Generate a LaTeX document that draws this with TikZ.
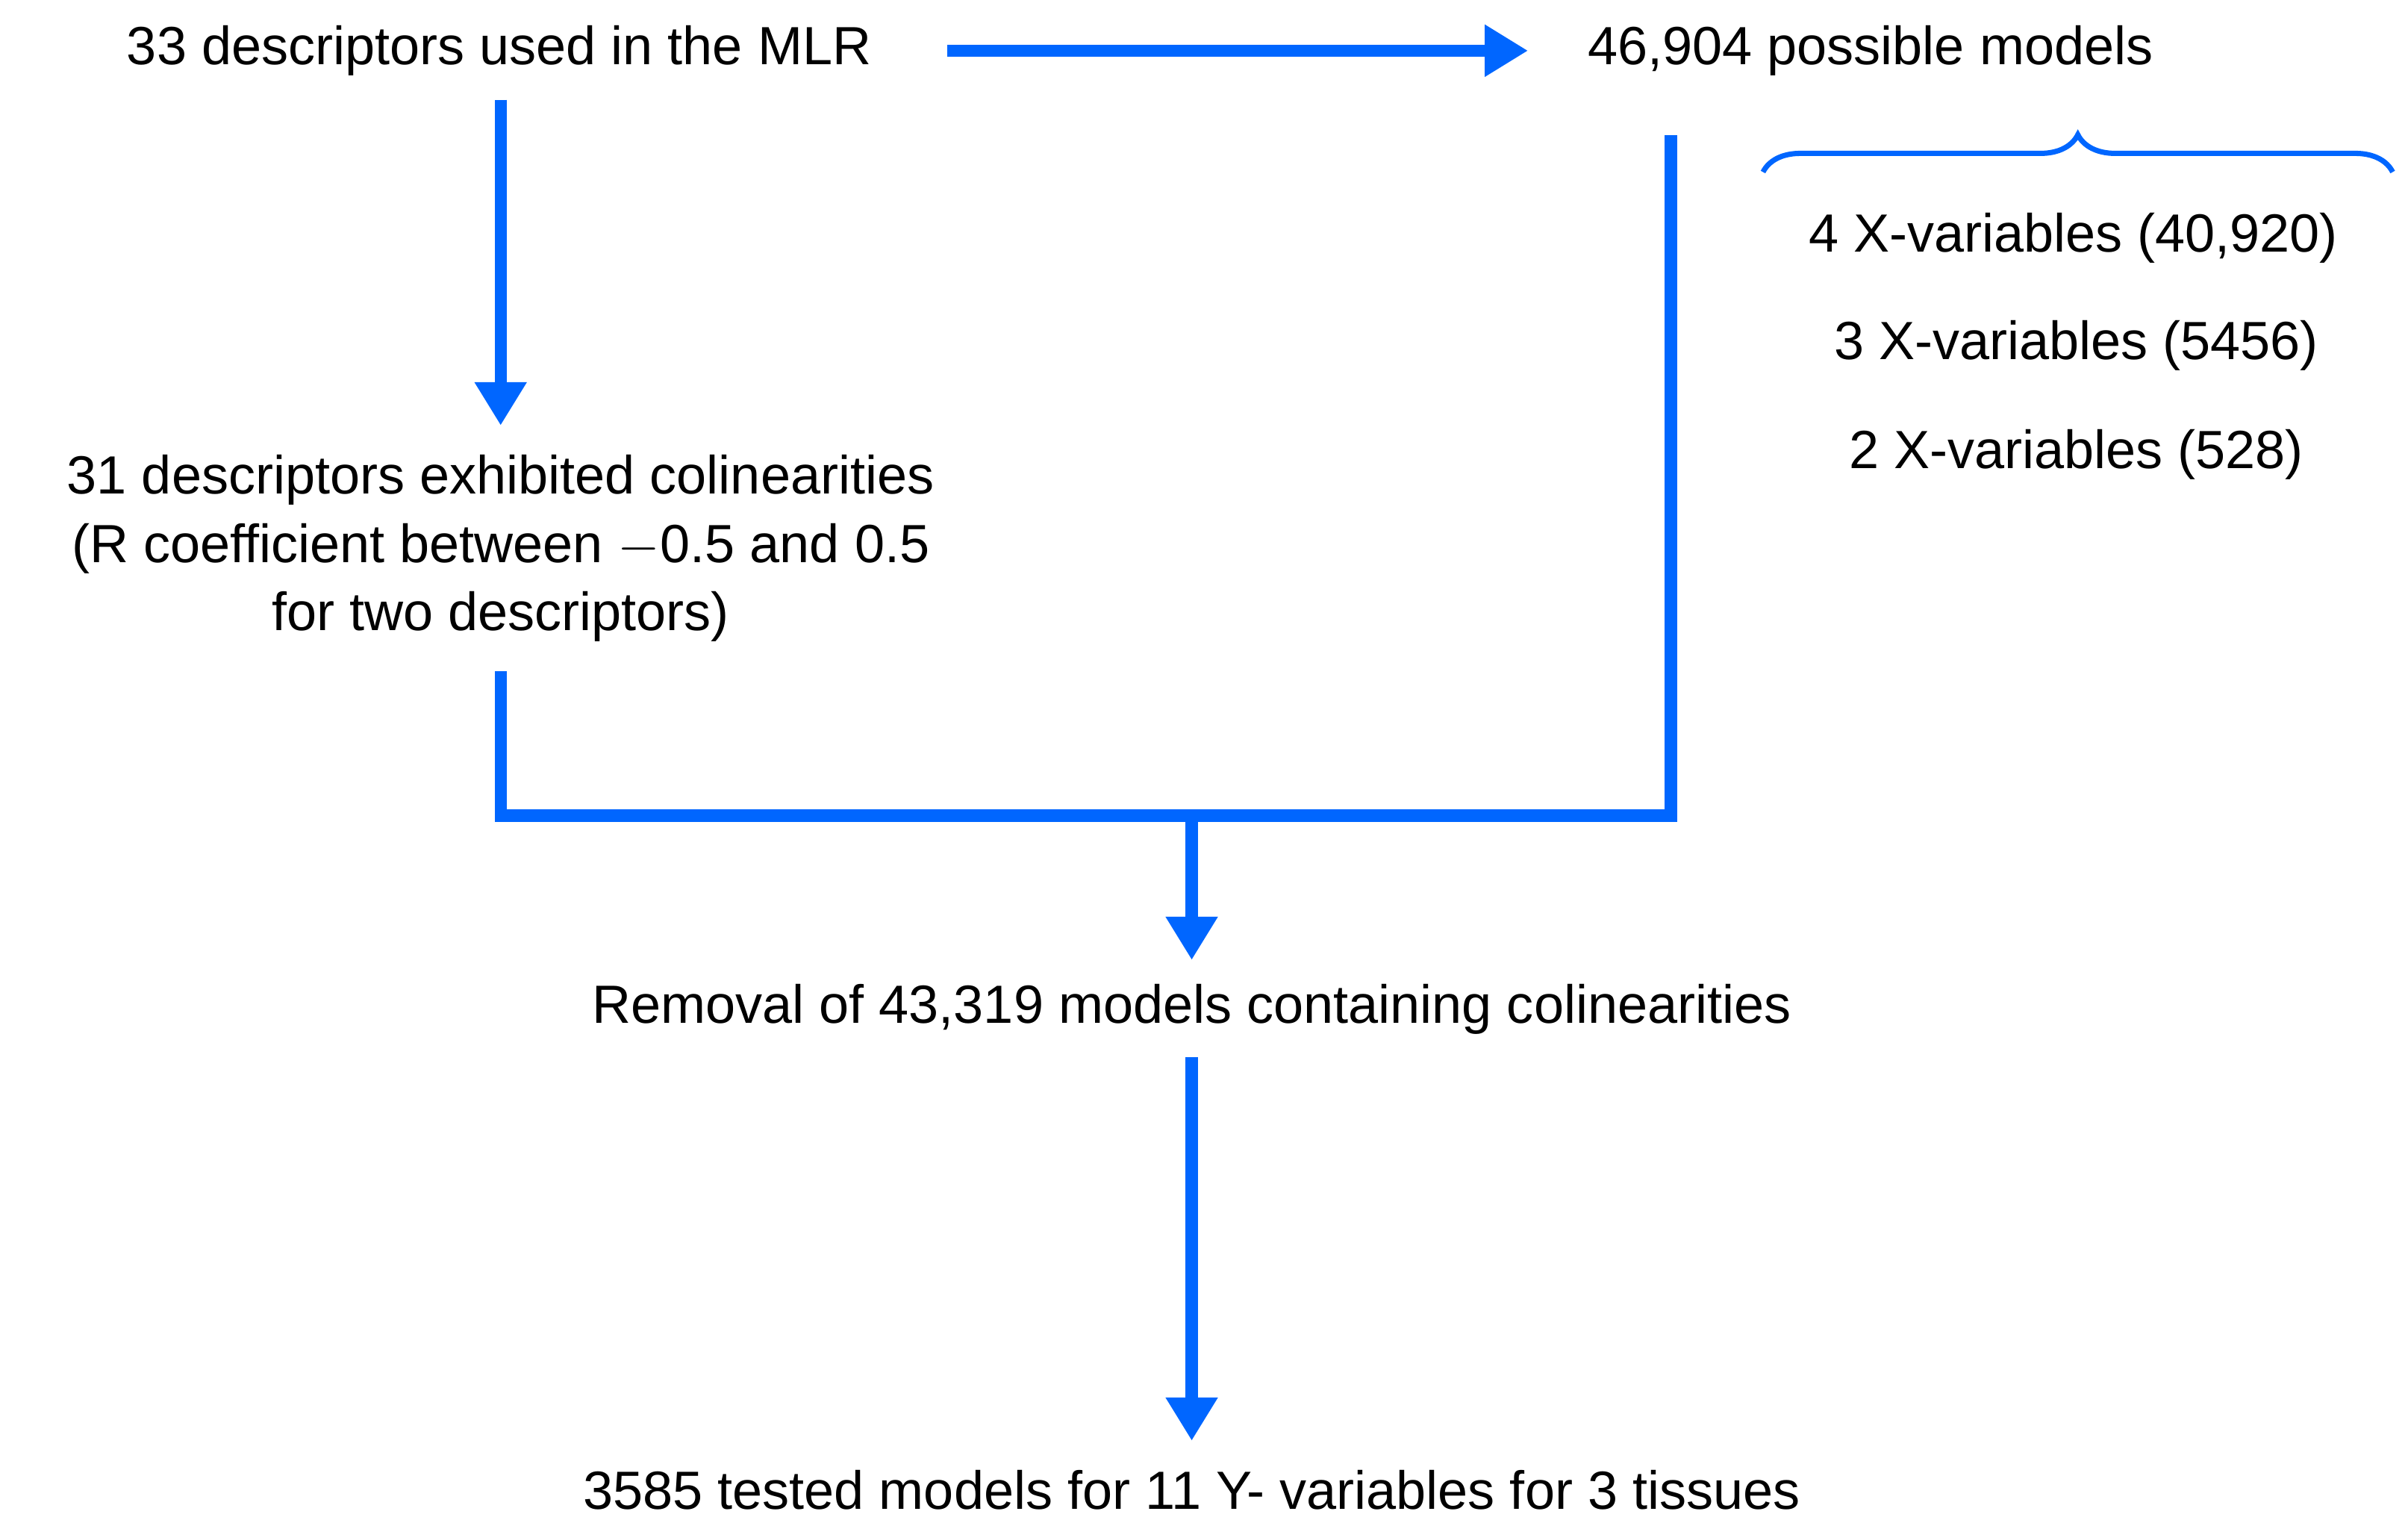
\documentclass[tikz,border=0pt]{standalone}
\usepackage{fontspec}
\setmainfont{Liberation Sans}
\usetikzlibrary{arrows.meta,decorations.pathreplacing}
\definecolor{fb}{HTML}{0066FF}
\begin{document}
\begin{tikzpicture}[x=0.020574cm,y=-0.020574cm,
  lbl/.style={font=\fontsize{20.5}{28}\selectfont,inner sep=0pt,align=center},
  fl/.style={draw=fb,line width=4.6pt},
  ar/.style={fl,-{Triangle[length=0.58cm,width=0.66cm]}}]
\useasboundingbox (0,0) rectangle (1568,993);
\node[lbl] (a) at (325,33) {33 descriptors used in the MLR};
\node[lbl] (b) at (1218,33) {46,904 possible models};
\node[lbl] (c) at (326,357) {31 descriptors exhibited colinearities\\[-2pt](R coefficient between $-$0.5 and 0.5\\[-2pt]for two descriptors)};
\node[lbl] (d) at (776,657) {Removal of 43,319 models containing colinearities};
\node[lbl] (e) at (776,970) {3585 tested models for 11 Y- variables for 3 tissues};
\node[lbl] (v4) at (1350,155) {4 X-variables (40,920)};
\node[lbl] (v3) at (1352,225) {3 X-variables (5456)};
\node[lbl] (v2) at (1352,296) {2 X-variables (528)};
\coordinate (ae) at (617,33); \coordinate (be) at (995,33);
\draw[ar] (ae) -- (be);
\coordinate (a1) at (326,65); \coordinate (c1) at (326,277);
\draw[ar] (a1) -- (c1);
\coordinate (c2) at (326,437); \coordinate (b2) at (1088,88);
\coordinate (j) at (776,531);
\draw[fl] (c2) -- (326,531) -- (1088,531) -- (b2);
\coordinate (d1) at (776,625);
\draw[ar] (j) -- (d1);
\coordinate (d2) at (776,688); \coordinate (e1) at (776,938);
\draw[ar] (d2) -- (e1);
\coordinate (br1) at (1148,112); \coordinate (br2) at (1558,112);
\draw[draw=fb,line width=2pt,decorate,decoration={brace,amplitude=0.5cm}] (br1) -- (br2);
\end{tikzpicture}
\end{document}
